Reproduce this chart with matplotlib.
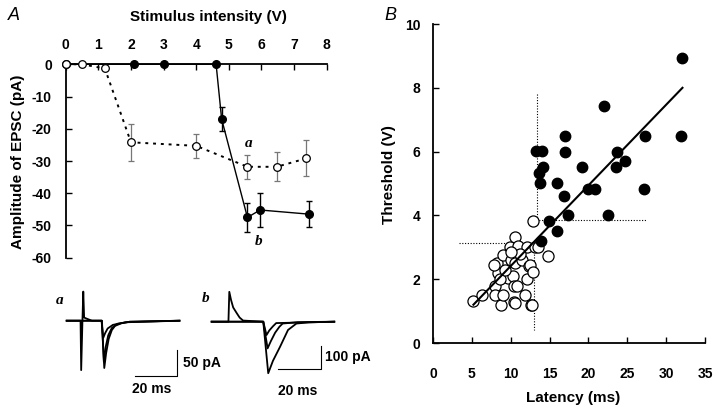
"""
Threshold and latency figure: EPSC amplitude vs stimulus (A), threshold vs latency (B).
"""

import matplotlib
matplotlib.use('Agg')
import matplotlib.pyplot as plt

plt.rcParams['axes.unicode_minus'] = False

W, H = 720, 415

# panel A, open circles (dotted line)
open_v = [0, 0.5, 1.2, 2.0, 4.0, 5.57, 6.47, 7.37]
open_amp = [0, 0, -1.3, -24.2, -25.3, -31.8, -31.8, -29.2]
open_err = [0, 0, 0, 5.7, 3.7, 3.8, 4.5, 5.6]

# panel A, filled circles (solid line)
filled_v = [0, 2.1, 3.0, 4.61, 4.78, 5.57, 5.96, 7.47]
filled_amp = [0, 0, 0, 0, -17.0, -47.5, -45.2, -46.5]
filled_err = [0, 0, 0, 0, 3.6, 4.5, 5.2, 4.0]

a_xticks = [0, 1, 2, 3, 4, 5, 6, 7, 8]
a_yticks = [0, -10, -20, -30, -40, -50, -60]

# inset traces a (ms, pA)
trace_a_t = [
    [0, 6.6, 6.9, 7.5, 7.9, 8.3, 9.5, 12.0, 16.7, 17.9, 18.8, 20.0, 21.5, 23.0, 26.0, 30.0, 53.7],
    [0, 16.8, 17.7, 18.6, 19.8, 21.5, 24.0, 30.0, 53.7],
    [0, 16.6, 17.4, 18.3, 19.5, 22.0, 28.0, 53.7],
]
trace_a_i = [
    [0, 0, -95, 0, 56, 6, 4, 0, 0, -91, -62, -35, -18, -10, -5, -2, 0],
    [0, 0, -79, -50, -28, -14, -6, -2, 0],
    [0, 0, -33, -24, -15, -8, -3, 0],
]

# inset traces b (ms, pA)
trace_b_t = [
    [0, 7.8, 8.2, 9.0, 10.0, 11.6, 13.0, 14.6, 24.0, 26.3, 28.5, 31.8, 35.5, 39.4, 45.0, 57.0],
    [0, 24.0, 26.0, 27.5, 29.5, 31.5, 33.0, 40.0, 57.0],
    [0, 24.0, 25.5, 26.8, 28.5, 30.0, 57.0],
]
trace_b_i = [
    [0, 0, 130, 95, 62, 38, 18, 5, 0, -224, -170, -109, -36, -8, -3, 0],
    [0, 0, -116, -85, -48, -22, -8, -2, 0],
    [0, 0, -58, -38, -20, -6, 0],
]

# panel B, open circles
open_lat = [5.1, 6.3, 8.0, 8.0, 8.8, 9.0, 8.4, 8.2, 9.0, 9.6, 9.9, 10.1, 10.3,
            10.4, 10.4, 10.5, 10.55, 10.6, 10.8, 11.0, 11.5, 11.8, 12.1, 12.1,
            12.3, 12.5, 12.6, 12.8, 12.9, 13.1, 13.5, 14.8, 12.9, 8.6, 9.3,
            11.2, 7.8, 10.0]
open_thr = [1.33, 1.5, 1.8, 1.5, 1.2, 1.5, 2.2, 2.5, 2.75, 2.03, 3.02, 2.6, 2.1,
            1.3, 1.8, 2.5, 3.33, 1.25, 1.8, 3.04, 2.6, 1.5, 2.0, 3.02,
            2.4, 2.44, 1.2, 1.19, 2.24, 3.0, 3.0, 2.73, 3.84, 2.0, 2.3,
            2.8, 2.45, 2.85]

# panel B, filled circles
filled_lat = [32.0, 31.9, 22.05, 17.0, 27.3, 13.3, 14.0, 17.0, 23.7, 14.2, 13.6,
              13.8, 15.9, 19.2, 23.6, 24.7, 20.0, 20.9, 27.1, 16.9, 17.4, 22.5,
              14.9, 15.9, 13.9]
filled_thr = [8.92, 6.5, 7.43, 6.5, 6.5, 6.02, 6.02, 6.0, 6.0, 5.53, 5.32,
              5.0, 5.0, 5.53, 5.53, 5.7, 4.82, 4.82, 4.82, 4.62, 4.01, 4.01,
              3.84, 3.52, 3.21]

# regression line end points
fit_lat = [5.2, 32.1]
fit_thr = [1.2, 8.0]

# dotted threshold guides
guide_low_x = [3.4, 13.0, 13.0]
guide_low_y = [3.12, 3.12, 0.4]
guide_high_x = [13.4, 13.4, 27.5]
guide_high_y = [7.8, 3.86, 3.86]

b_xticks = [0, 5, 10, 15, 20, 25, 30, 35]
b_yticks = [0, 2, 4, 6, 8, 10]

SANS = 'Liberation Sans'


def rect(x0, y0, x1, y1):
    return [x0 / W, 1 - y1 / H, (x1 - x0) / W, (y1 - y0) / H]


def ptext(fig, x, y, s, **kw):
    fig.text(x / W, 1 - y / H, s, **kw)


def main():
    fig = plt.figure(figsize=(W / 100, H / 100), dpi=100)
    fig.patch.set_facecolor('white')

    # ---------- panel A ----------
    ax = fig.add_axes(rect(65.7, 64.3, 326.7, 257.7))
    ax.set_xlim(0, 8)
    ax.set_ylim(-60, 0)
    for s in ['bottom', 'right']:
        ax.spines[s].set_visible(False)
    ax.spines['top'].set_linewidth(1.3)
    ax.spines['left'].set_linewidth(1.3)
    ax.xaxis.tick_top()
    ax.set_xticks(a_xticks)
    ax.set_yticks(a_yticks)
    ax.tick_params(axis='x', direction='in', length=4, width=1, pad=9,
                   labelsize=10)
    ax.tick_params(axis='y', direction='in', length=4, width=1, pad=10,
                   labelsize=10)
    for lab in ax.get_xticklabels() + ax.get_yticklabels():
        lab.set_fontfamily(SANS)
        lab.set_fontweight('bold')

    ax.errorbar(filled_v, filled_amp, yerr=filled_err, fmt='-', color='black',
                lw=1.0, elinewidth=1.0, capsize=2, marker='o', ms=5.5,
                mfc='black', mec='black', clip_on=False, zorder=3)
    ax.errorbar(open_v, open_amp, yerr=open_err, fmt='-', color='black',
                ls=(0, (1.5, 2.5)), lw=1.4, ecolor='#777777', elinewidth=0.9,
                capsize=2, marker='o', ms=5.5, mfc='white', mec='black',
                mew=0.9, clip_on=False, zorder=4)

    ax.text(5.6, -24.5, 'a', fontsize=11, fontweight='bold', style='italic',
            family='Liberation Serif', ha='center', va='center')
    ax.text(5.9, -55, 'b', fontsize=11, fontweight='bold', style='italic',
            family='Liberation Serif', ha='center', va='center')

    ptext(fig, 208, 16.7, 'Stimulus intensity (V)', fontsize=11,
          fontweight='bold', family=SANS, ha='center', va='center')
    ptext(fig, 18, 162, 'Amplitude of EPSC (pA)', fontsize=11,
          fontweight='bold', family=SANS, ha='center', va='center',
          rotation=90)
    ptext(fig, 14, 15, 'A', fontsize=13, style='italic', family=SANS,
          ha='center', va='center')

    # ---------- inset trace a ----------
    ia = fig.add_axes(rect(60, 280, 200, 410))
    ia.set_xlim(-3.19, 63.5)
    ia.set_ylim(-171.7, 78.3)
    ia.axis('off')
    for t, i in zip(trace_a_t, trace_a_i):
        ia.plot(t, i, color='black', lw=1.3)
    ia.plot([32.5, 52.5, 52.5], [-106.3, -106.3, -56.3], color='black', lw=0.8)
    ptext(fig, 60, 300, 'a', fontsize=11, fontweight='bold', style='italic',
          family='Liberation Serif', ha='center', va='center')
    ptext(fig, 183, 363, '50 pA', fontsize=10, fontweight='bold', family=SANS,
          ha='left', va='center')
    ptext(fig, 152, 389, '20 ms', fontsize=10, fontweight='bold', family=SANS,
          ha='center', va='center')

    # ---------- inset trace b ----------
    ib = fig.add_axes(rect(205, 280, 345, 410))
    ib.set_xlim(-3.1, 62.0)
    ib.set_ylim(-383.9, 181.3)
    ib.axis('off')
    for t, i in zip(trace_b_t, trace_b_i):
        ib.plot(t, i, color='black', lw=1.3)
    ib.plot([30.8, 50.8, 50.8], [-205.7, -205.7, -105.7], color='black', lw=0.8)
    ptext(fig, 206, 298, 'b', fontsize=11, fontweight='bold', style='italic',
          family='Liberation Serif', ha='center', va='center')
    ptext(fig, 325, 357, '100 pA', fontsize=10, fontweight='bold',
          family=SANS, ha='left', va='center')
    ptext(fig, 298, 391, '20 ms', fontsize=10, fontweight='bold', family=SANS,
          ha='center', va='center')

    # ---------- panel B ----------
    bx = fig.add_axes(rect(433, 24, 705, 343))
    bx.set_xlim(0, 35)
    bx.set_ylim(0, 10)
    for s in ['top', 'right']:
        bx.spines[s].set_visible(False)
    bx.spines['bottom'].set_linewidth(1.3)
    bx.spines['left'].set_linewidth(1.3)
    bx.set_xticks(b_xticks)
    bx.set_yticks(b_yticks)
    bx.tick_params(axis='x', direction='in', length=4, width=1, pad=17,
                   labelsize=10)
    bx.tick_params(axis='y', direction='in', length=4, width=1, pad=9,
                   labelsize=10)
    for lab in bx.get_xticklabels() + bx.get_yticklabels():
        lab.set_fontfamily(SANS)
        lab.set_fontweight('bold')

    bx.plot(guide_low_x, guide_low_y, color='black', lw=0.8,
            ls=(0, (1, 1.5)), zorder=1)
    bx.plot(guide_high_x, guide_high_y, color='black', lw=0.8,
            ls=(0, (1, 1.5)), zorder=1)
    bx.plot(open_lat, open_thr, 'o', ms=8, mfc='white', mec='black', mew=0.9,
            zorder=2)
    bx.plot(filled_lat, filled_thr, 'o', ms=7.5, mfc='black', mec='black',
            zorder=3)
    bx.plot(fit_lat, fit_thr, color='black', lw=1.5, zorder=4)

    ptext(fig, 573, 398, 'Latency (ms)', fontsize=11, fontweight='bold',
          family=SANS, ha='center', va='center')
    ptext(fig, 389, 175, 'Threshold (V)', fontsize=11, fontweight='bold',
          family=SANS, ha='center', va='center', rotation=90)
    ptext(fig, 390, 15, 'B', fontsize=13, style='italic', family=SANS,
          ha='center', va='center')

    fig.savefig('out.png', dpi=100, facecolor='white')


if __name__ == '__main__':
    main()
